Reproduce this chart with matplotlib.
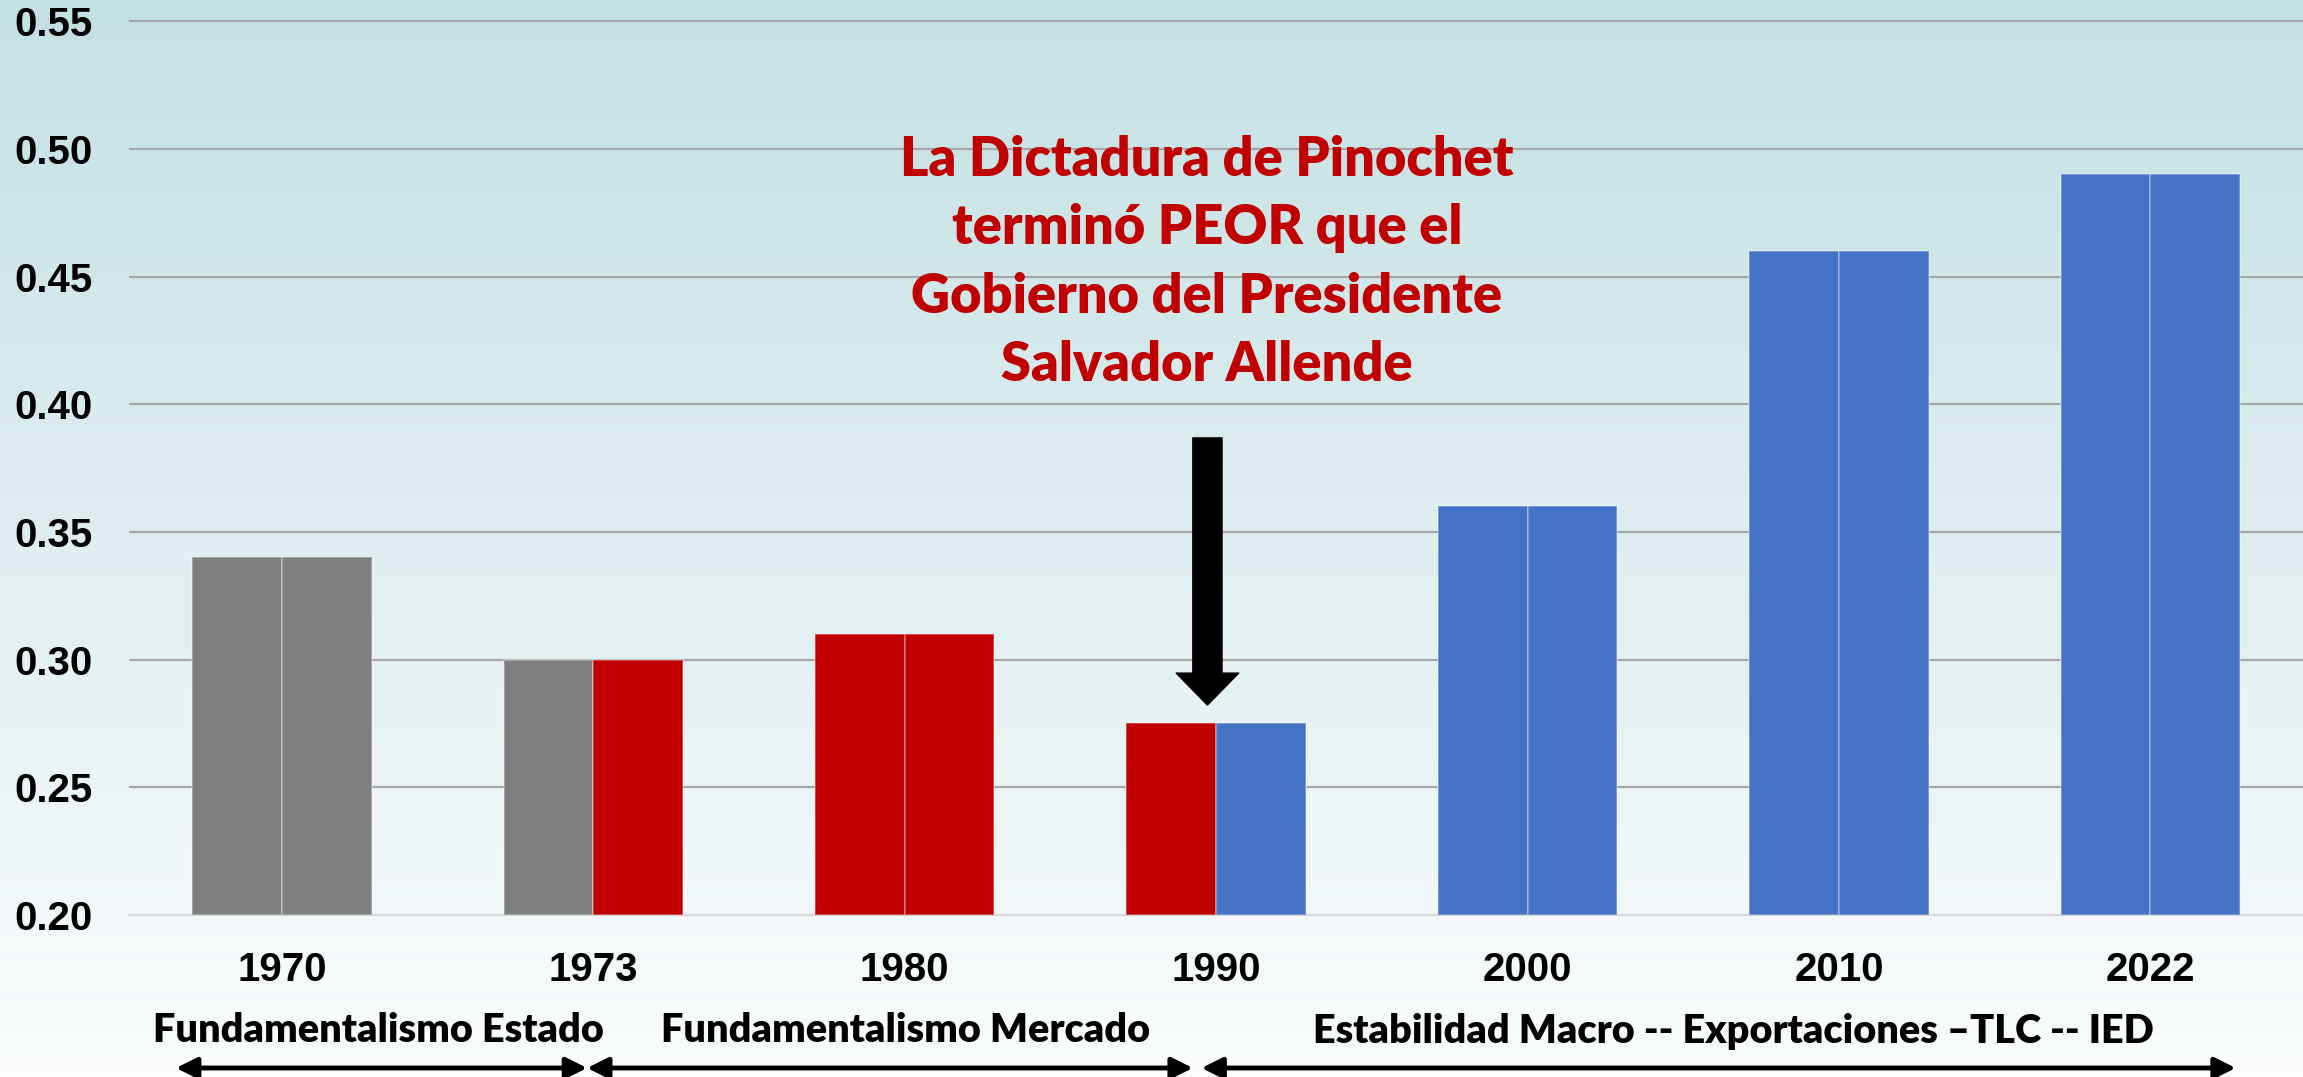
import numpy as np
import matplotlib
matplotlib.use("Agg")
import matplotlib.pyplot as plt
import matplotlib.transforms as mtransforms

# ---- data ----
categories = ['1970', '1973', '1980', '1990', '2000', '2010', '2022']
values_left = [0.34, 0.30, 0.31, 0.275, 0.36, 0.46, 0.49]
values_right = [0.34, 0.30, 0.31, 0.275, 0.36, 0.46, 0.49]
GRAY, RED, BLUE = '#7F7F7F', '#C00000', '#4472C4'
colors_left = [GRAY, GRAY, RED, RED, BLUE, BLUE, BLUE]
colors_right = [GRAY, RED, RED, BLUE, BLUE, BLUE, BLUE]
yticks = [0.20, 0.25, 0.30, 0.35, 0.40, 0.45, 0.50, 0.55]
period_labels = ['Fundamentalismo Estado', 'Fundamentalismo Mercado',
                 'Estabilidad Macro -- Exportaciones \u2013TLC -- IED']
annotation = 'La Dictadura de Pinochet\nterminó PEOR que el\nGobierno del Presidente\nSalvador Allende'

W, H = 2303, 1077
fig = plt.figure(figsize=(W / 100, H / 100), dpi=100)

# background gradient
bg = fig.add_axes([0, 0, 1, 1], zorder=-5)
top = np.array([195, 224, 227]) / 255
bot = np.array([250, 252, 253]) / 255
t = np.linspace(0, 1, 256)[:, None]
grad = top * (1 - t) + bot * t
grad = np.repeat(grad[:, None, :], 2, axis=1)
bg.imshow(grad, aspect='auto', extent=[0, 1, 0, 1])
bg.axis('off')

ax = fig.add_axes([129 / W, 1 - 915 / H, 1 - 129 / W, 915 / H])
ax.set_facecolor('none')
x = np.arange(len(categories))
bw = 0.288
ax.bar(x - bw / 2, np.array(values_left) - 0.2, bw, bottom=0.2, color=colors_left,
       edgecolor=(1, 1, 1, 0.35), linewidth=1.2, zorder=3)
ax.bar(x + bw / 2, np.array(values_right) - 0.2, bw, bottom=0.2, color=colors_right,
       edgecolor=(1, 1, 1, 0.35), linewidth=1.2, zorder=3)

ax.set_xlim(-0.491, 6.49)
ax.set_ylim(0.20, 0.20 + 915 / 127.7 * 0.05)
ax.set_yticks(yticks)
ax.set_yticklabels([f'{v:.2f}' for v in yticks])
ax.set_xticks(x)
ax.set_xticklabels(categories)
for v in yticks[1:]:
    ax.axhline(v, color='#A6A6A6', lw=1.6, zorder=1)
for s in ['top', 'right', 'left']:
    ax.spines[s].set_visible(False)
ax.spines['bottom'].set_color('#D9D9D9')
ax.spines['bottom'].set_linewidth(1.5)
ax.tick_params(axis='both', length=0, labelsize=29)
ax.tick_params(axis='y', pad=26)
ax.tick_params(axis='x', pad=26)
for lab in ax.get_xticklabels() + ax.get_yticklabels():
    lab.set_fontfamily('Liberation Sans')
    lab.set_fontweight('bold')

# red annotation
ax.text(2.97, 0.4555, annotation, ha='center', va='center', color='#C00000',
        fontsize=39, fontweight='heavy', family='Lato', linespacing=1.45, zorder=5)

# black down arrow
ax.annotate('', xy=(2.972, 0.2822), xytext=(2.972, 0.3868),
            arrowprops=dict(arrowstyle='simple,head_width=45,head_length=23,tail_width=21',
                            mutation_scale=1, fc='black', ec='black', shrinkA=0, shrinkB=0),
            zorder=6)

# periods
trans = mtransforms.blended_transform_factory(ax.transData, fig.transFigure)
spans = [(-0.34, 0.98), (0.98, 2.925), (2.953, 6.274)]
label_x = [0.311, 2.002, 4.66]
for (a, b), lab, lx in zip(spans, period_labels, label_x):
    ax.text(lx, 1 - 1031 / H, lab, transform=trans, ha='center', va='center',
            fontsize=28.5, fontweight='heavy', family='Lato', clip_on=False)
    ax.annotate('', xy=(a, 1 - 1068 / H), xytext=(b, 1 - 1068 / H),
                xycoords=trans, textcoords=trans,
                arrowprops=dict(arrowstyle='<|-|>,head_length=0.7,head_width=0.35',
                                mutation_scale=18, lw=3.5, color='black',
                                shrinkA=0, shrinkB=0), annotation_clip=False)

fig.savefig('out.png', dpi=100)
